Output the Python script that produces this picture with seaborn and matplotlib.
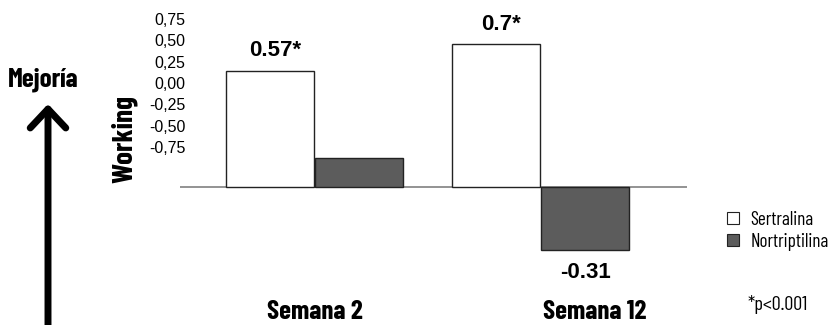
import matplotlib
matplotlib.use('Agg')
import matplotlib.pyplot as plt
import matplotlib.transforms as mtransforms
import pandas as pd
import seaborn as sns

# Datos del grafico
semanas = ['Semana 2', 'Semana 12']
grupos = ['Sertralina', 'Nortriptilina']
sertralina = [0.57, 0.70]
nortriptilina = [0.14, -0.31]
etiquetas_sertralina = ['0.57*', '0.7*']
etiquetas_nortriptilina = ['', '-0.31']
ticks_y = [0.75, 0.50, 0.25, 0.00, -0.25, -0.50, -0.75]
ticks_y_texto = ['0,75', '0,50', '0,25', '0,00', '-0,25', '-0,50', '-0,75']
nota = '*p<0.001'

df = pd.DataFrame({
    'semana': semanas * 2,
    'grupo': [grupos[0]] * 2 + [grupos[1]] * 2,
    'valor': sertralina + nortriptilina,
})

cond = ['Barlow Condensed', 'DejaVu Sans']

sns.set_style('white')
plt.rcParams['font.family'] = ['Liberation Sans', 'DejaVu Sans']
plt.rcParams['text.color'] = 'black'
plt.rcParams['ytick.color'] = 'black'
plt.rcParams['ytick.labelcolor'] = 'black'

W, H = 837, 325
fig = plt.figure(figsize=(W / 100, H / 100), dpi=100)

# eje principal (en pixeles: x 180-687, y 20-300, cero en y=187)
ax = fig.add_axes([180 / W, 25 / H, 507 / W, 280 / H])
sns.barplot(data=df, x='semana', y='valor', hue='grupo', hue_order=grupos,
            palette=['white', '#5c5c5c'], edgecolor='#222222', linewidth=1,
            width=0.79, gap=0.015, ax=ax)
ax.set_ylim(-0.554, 0.819)
ax.set_xlim(-0.595, 1.648)
ax.axhline(0, color='#808080', lw=1.2, zorder=0)
for s in ax.spines.values():
    s.set_visible(False)
ax.set_xticks([])
ax.set_yticks([])
ax.set_xlabel('')
ax.set_ylabel('')

# etiquetas de valor
for cont, etiquetas in zip(ax.containers, [etiquetas_sertralina, etiquetas_nortriptilina]):
    for barra, txt in zip(cont, etiquetas):
        if not txt:
            continue
        h = barra.get_height()
        xc = barra.get_x() + barra.get_width() / 2
        dx = 3.5 if txt.endswith('*') else 0
        dy = 14.5 if h >= 0 else -16
        ax.annotate(txt, xy=(xc, h), xytext=(dx, dy), textcoords='offset points',
                    ha='center', va='center', fontsize=16, fontweight='bold')

# nombres de las semanas
desplaz = [0, 0.24]
trans = mtransforms.blended_transform_factory(ax.transData, fig.transFigure)
for i, (sem, d) in enumerate(zip(semanas, desplaz)):
    ax.text(i + d, 1 - 312 / H, sem, transform=trans, ha='center', va='center',
            fontsize=19.5, fontweight='bold', family=cond)

# leyenda
sns.move_legend(ax, loc='upper left', bbox_to_anchor=(727.5 / W, 1 - 211 / H),
                bbox_transform=fig.transFigure, frameon=False, title=None,
                handlelength=0.6, handleheight=0.6, handletextpad=0.6,
                labelspacing=0.2, borderpad=0, borderaxespad=0,
                prop={'family': cond, 'size': 13.8})
for p in ax.get_legend().get_patches():
    p.set_edgecolor('#222222')
    p.set_linewidth(0.8)

fig.text(747 / W, 1 - 305 / H, nota, ha='left', va='center', family=cond, fontsize=14.5)

# escala del eje y (columna de texto a la izquierda)
ax_t = fig.add_axes([185.5 / W, 1 - 147 / H, 0.001, 128 / H])
ax_t.set_ylim(-0.75, 0.75)
ax_t.set_yticks(ticks_y)
ax_t.set_yticklabels(ticks_y_texto, fontsize=11.5)
ax_t.tick_params(axis='y', length=0, pad=0)
ax_t.set_xticks([])
for s in ax_t.spines.values():
    s.set_visible(False)
ax_t.patch.set_visible(False)

fig.text(124 / W, 1 - 139 / H, 'Working', rotation=90, ha='center', va='center',
         fontsize=21, fontweight='bold', family=cond)
fig.text(43 / W, 1 - 80 / H, 'Mejoría', ha='center', va='center',
         fontsize=19.5, fontweight='bold', family=cond)

# flecha de mejoria
ax.annotate('', xy=(48, H - 104), xytext=(48, -5), xycoords='figure pixels',
            textcoords='figure pixels',
            arrowprops=dict(arrowstyle='->,head_length=0.68,head_width=0.64',
                            mutation_scale=20, lw=5, color='black',
                            shrinkA=0, shrinkB=0))

fig.savefig('out.png', dpi=100)
